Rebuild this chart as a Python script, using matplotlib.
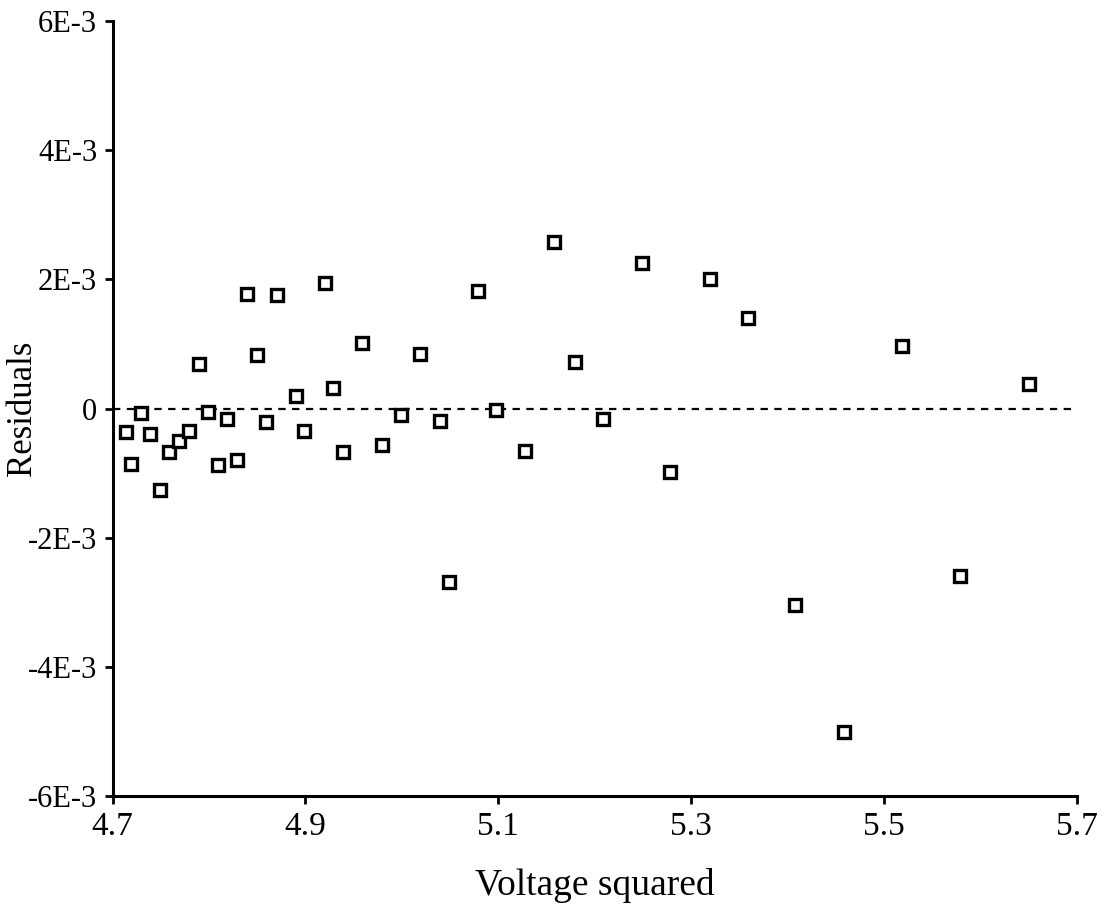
import matplotlib
matplotlib.use("Agg")
import numpy as np
import matplotlib.pyplot as plt

# voltage squared vs residuals (residuals in units of 1E-3)
voltage_sq = [4.714, 4.719, 4.729, 4.739, 4.749, 4.759, 4.769, 4.779, 4.790, 4.799,
              4.809, 4.819, 4.829, 4.839, 4.850, 4.859, 4.870, 4.890, 4.899, 4.920,
              4.929, 4.939, 4.959, 4.979, 4.999, 5.019, 5.039, 5.049, 5.079, 5.098,
              5.128, 5.158, 5.179, 5.208, 5.249, 5.278, 5.319, 5.359, 5.408, 5.458,
              5.519, 5.579, 5.650]
residuals_e3 = [-0.37, -0.86, -0.065, -0.40, -1.26, -0.67, -0.50, -0.35, 0.69, -0.06,
                -0.87, -0.16, -0.79, 1.78, 0.83, -0.21, 1.75, 0.20, -0.35, 1.95,
                0.32, -0.67, 1.01, -0.56, -0.10, 0.85, -0.20, -2.69, 1.82, -0.03,
                -0.66, 2.58, 0.715, -0.17, 2.26, -0.99, 2.005, 1.40, -3.05, -5.01,
                0.97, -2.59, 0.375]

x_ticks = [4.7, 4.9, 5.1, 5.3, 5.5, 5.7]
x_ticklabels = ['4.7', '4.9', '5.1', '5.3', '5.5', '5.7']
y_ticks = [-6, -4, -2, 0, 2, 4, 6]
y_ticklabels = ['-6E-3', '-4E-3', '-2E-3', '0', '2E-3', '4E-3', '6E-3']

plt.rcParams['font.family'] = ['Liberation Serif', 'DejaVu Serif']

fig = plt.figure(figsize=(11.1, 9.06), dpi=100)
ax = fig.add_axes([0.1014, 0.1214, 0.8689, 0.8554])

# zero reference line
ax.plot([4.7, 5.7], [0, 0], color='black', lw=1.6, linestyle=(0, (3.3, 2.9)))
ax.plot(voltage_sq, residuals_e3, linestyle='none', marker='s', ms=8.8,
        mfc='white', mec='black', mew=2.4)

ax.set_xlim(4.7, 5.7)
ax.set_ylim(-6, 6)
ax.set_xticks(x_ticks)
ax.set_xticklabels(x_ticklabels, fontsize=24)
ax.set_yticks(y_ticks)
ax.set_yticklabels(y_ticklabels, fontsize=22)
ax.tick_params(direction='out', length=6, width=2, color='black')
ax.tick_params(axis='x', pad=5)
ax.tick_params(axis='y', pad=5)

for side in ['top', 'right']:
    ax.spines[side].set_visible(False)
for side in ['left', 'bottom']:
    ax.spines[side].set_linewidth(2.2)

ax.set_xlabel('Voltage squared', fontsize=27, labelpad=19)
ax.set_ylabel('Residuals', fontsize=25, va='center')
ax.yaxis.set_label_coords(-0.093, 0.5)

fig.savefig('out.png', dpi=100)
